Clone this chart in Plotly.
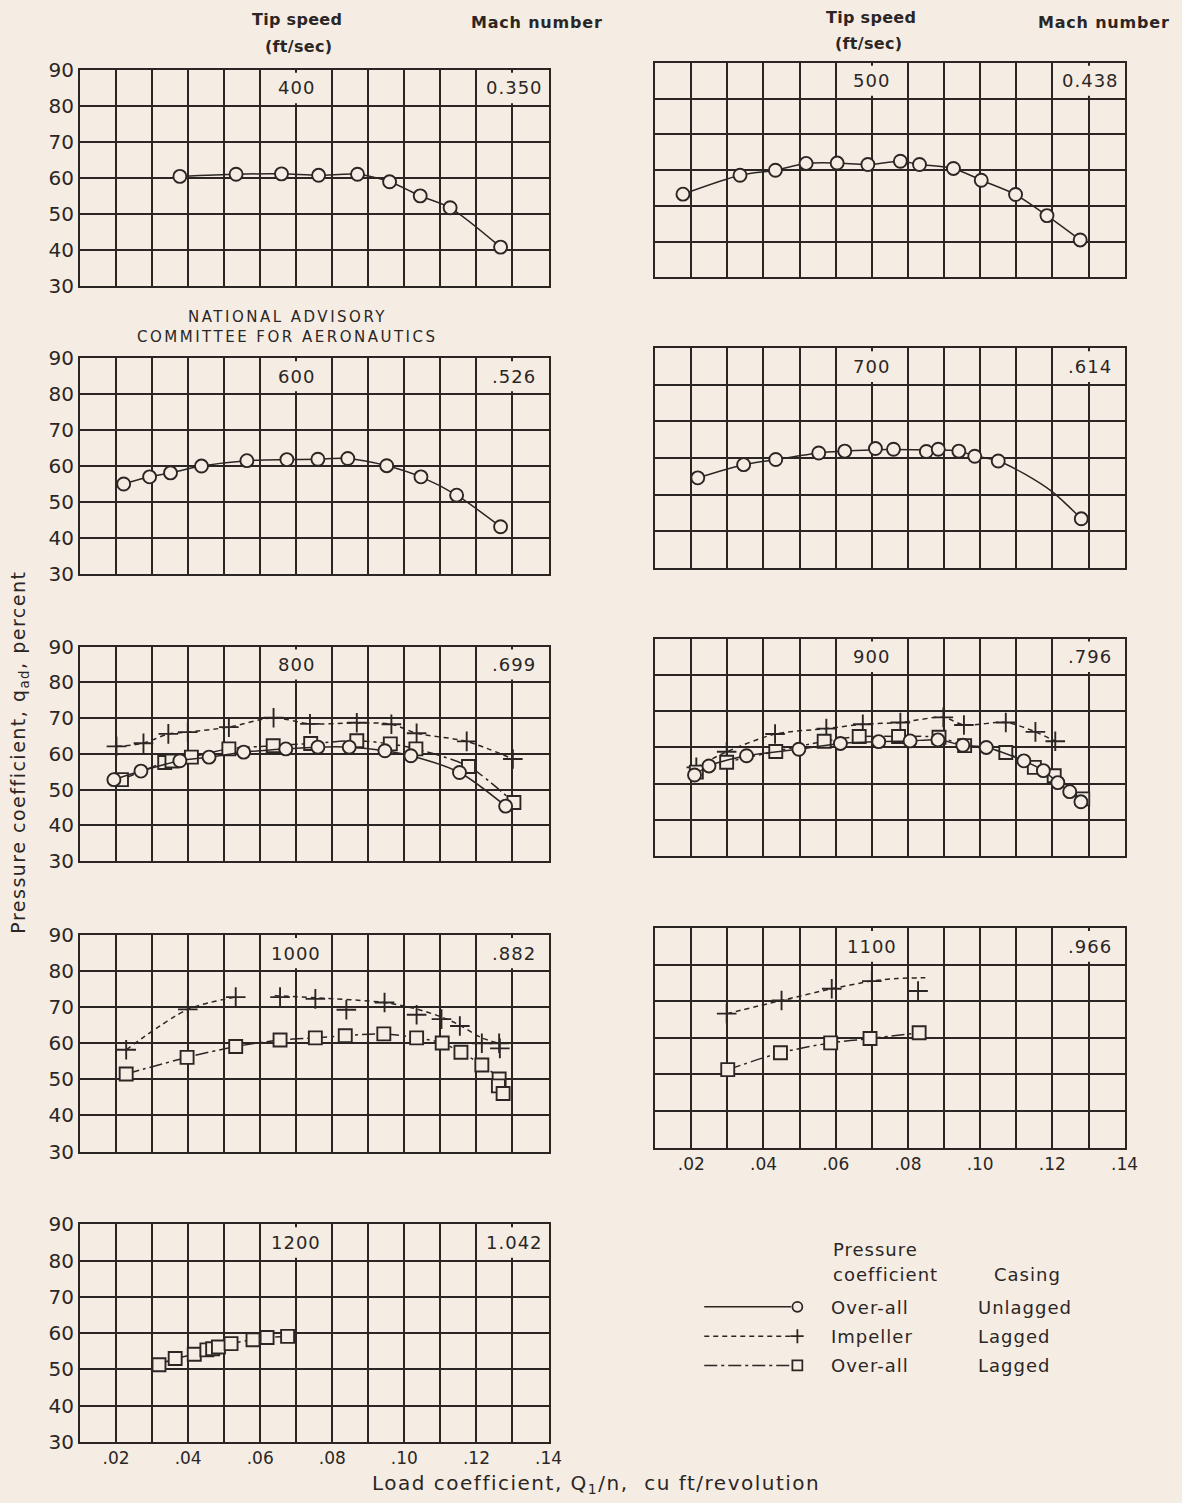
import plotly.graph_objects as go

W, H = 1182, 1503
BG = "#f5ede4"
INK = "#2b2624"
FONT = "DejaVu Sans"

# ---------------- data ----------------
TIP_SPEEDS = ["400", "500", "600", "700", "800", "900", "1000", "1100", "1200"]
MACH_NUMBERS = ["0.350", "0.438", ".526", ".614", ".699", ".796", ".882", ".966", "1.042"]

Y_TICKS = [30, 40, 50, 60, 70, 80, 90]
Y_TICK_LABELS = ["30", "40", "50", "60", "70", "80", "90"]
X_TICKS = [0.02, 0.04, 0.06, 0.08, 0.10, 0.12, 0.14]
X_TICK_LABELS = [".02", ".04", ".06", ".08", ".10", ".12", ".14"]
X_MINOR = [0.01, 0.03, 0.05, 0.07, 0.09, 0.11, 0.13]

# Over-all pressure coefficient, unlagged casing (circles)
Q_400_OU = [0.0377, 0.0533, 0.0659, 0.0762, 0.0870, 0.0959, 0.1044, 0.1127, 0.1267]
P_400_OU = [60.5, 61.1, 61.2, 60.8, 61.1, 59.0, 55.1, 51.8, 40.9]

Q_500_OU = [0.0177, 0.0335, 0.0433, 0.0518, 0.0604, 0.0689, 0.0779, 0.0832, 0.0926, 0.1003, 0.1098, 0.1185, 0.1277]
P_500_OU = [53.3, 58.6, 60.0, 61.9, 62.0, 61.6, 62.5, 61.6, 60.5, 57.2, 53.2, 47.3, 40.5]

Q_600_OU = [0.0221, 0.0293, 0.0351, 0.0437, 0.0563, 0.0674, 0.0760, 0.0843, 0.0951, 0.1046, 0.1145, 0.1267]
P_600_OU = [55.0, 57.0, 58.1, 60.0, 61.5, 61.8, 61.9, 62.1, 60.1, 57.0, 51.9, 43.1]

Q_700_OU = [0.0218, 0.0345, 0.0434, 0.0553, 0.0625, 0.0710, 0.0760, 0.0851, 0.0884, 0.0941, 0.0985, 0.1050, 0.1280]
P_700_OU = [54.6, 58.2, 59.6, 61.4, 61.9, 62.6, 62.4, 61.8, 62.4, 61.9, 60.5, 59.2, 43.4]
# faired curve
Q_700_OU_CURVE = [0.0218, 0.0345, 0.0434, 0.0553, 0.0625, 0.0710, 0.0851, 0.0941, 0.0985, 0.1050, 0.1124, 0.1201, 0.1247, 0.1280]
P_700_OU_CURVE = [54.6, 58.2, 59.6, 61.4, 61.9, 62.3, 62.2, 61.9, 60.6, 59.2, 55.6, 50.7, 46.6, 43.4]

Q_800_OU = [0.0194, 0.0269, 0.0377, 0.0458, 0.0554, 0.0671, 0.0760, 0.0847, 0.0946, 0.1018, 0.1153, 0.1281]
P_800_OU = [52.8, 55.2, 58.1, 59.1, 60.5, 61.4, 61.9, 61.9, 60.9, 59.5, 54.8, 45.4]

Q_900_OU = [0.0209, 0.0249, 0.0353, 0.0498, 0.0613, 0.0719, 0.0806, 0.0883, 0.0952, 0.1017, 0.1121, 0.1175, 0.1215, 0.1248, 0.1279]
P_900_OU = [52.4, 54.9, 57.7, 59.5, 61.1, 61.6, 61.8, 62.1, 60.6, 60.0, 56.3, 53.6, 50.3, 47.8, 45.0]

# Impeller pressure coefficient, lagged casing (plus signs)
Q_800_IL = [0.0201, 0.0276, 0.0345, 0.0399, 0.0513, 0.0637, 0.0738, 0.0868, 0.0964, 0.1034, 0.1173, 0.1301]
P_800_IL = [62.1, 63.0, 65.6, 66.1, 67.5, 70.1, 68.4, 68.7, 68.3, 65.8, 63.5, 58.6]

Q_900_IL = [0.0214, 0.0298, 0.0432, 0.0574, 0.0675, 0.0779, 0.0898, 0.0955, 0.1071, 0.1153, 0.1208]
P_900_IL = [54.5, 58.8, 63.7, 65.2, 66.4, 66.9, 68.3, 66.2, 66.9, 64.3, 61.7]

Q_1000_IL = [0.0228, 0.0399, 0.0532, 0.0655, 0.0753, 0.0839, 0.0945, 0.1034, 0.1103, 0.1154, 0.1215, 0.1263, 0.1265]
P_1000_IL = [58.2, 69.4, 72.8, 72.8, 72.3, 69.3, 71.3, 67.9, 66.7, 64.8, 60.0, 60.0, 58.6]
# faired curve drawn through the impeller points
Q_1000_IL_CURVE = [0.0228, 0.0399, 0.0532, None, 0.0640, 0.0753, 0.0945, 0.1034, 0.1103, 0.1154, 0.1215, 0.1263]
P_1000_IL_CURVE = [58.2, 69.4, 72.8, None, 73.2, 72.6, 71.3, 69.5, 67.3, 65.0, 61.5, 60.0]

Q_1100_IL = [0.0298, 0.0450, 0.0589, 0.0700, 0.0828]
P_1100_IL = [66.6, 70.2, 73.4, 75.5, 72.8]
Q_1100_IL_CURVE = [0.0298, 0.0450, 0.0589, 0.0700, 0.0770, 0.0848]
P_1100_IL_CURVE = [66.6, 70.2, 73.4, 75.5, 76.2, 76.4]

# Over-all pressure coefficient, lagged casing (squares)
Q_800_OL = [0.0215, 0.0335, 0.0355, 0.0409, 0.0513, 0.0636, 0.0740, 0.0868, 0.0961, 0.1032, 0.1178, 0.1304]
P_800_OL = [52.8, 57.6, 58.0, 59.1, 61.4, 62.3, 62.9, 63.7, 62.8, 61.4, 56.5, 46.4]

Q_900_OL = [0.0214, 0.0298, 0.0434, 0.0568, 0.0665, 0.0774, 0.0886, 0.0957, 0.1071, 0.1150, 0.1205, 0.1284]
P_900_OL = [53.2, 55.9, 58.9, 61.7, 63.0, 63.0, 62.8, 60.5, 58.6, 54.5, 52.2, 45.8]

Q_1000_OL = [0.0228, 0.0397, 0.0532, 0.0655, 0.0753, 0.0836, 0.0943, 0.1034, 0.1105, 0.1157, 0.1215, 0.1263, 0.1261, 0.1274]
P_1000_OL = [51.5, 56.1, 59.1, 60.9, 61.5, 62.1, 62.6, 61.5, 60.1, 57.5, 54.0, 50.1, 48.2, 46.1]

Q_1100_OL = [0.0301, 0.0447, 0.0586, 0.0695, 0.0831]
P_1100_OL = [51.3, 55.9, 58.6, 59.8, 61.4]

Q_1200_OL = [0.0319, 0.0364, 0.0417, 0.0452, 0.0468, 0.0484, 0.0519, 0.0580, 0.0619, 0.0676]
P_1200_OL = [51.3, 53.0, 54.2, 55.4, 55.7, 56.2, 57.1, 58.2, 58.8, 59.1]

LEGEND_PRESSURE = ["Over-all", "Impeller", "Over-all"]
LEGEND_CASING = ["Unlagged", "Lagged", "Lagged"]

# ---------------- styles ----------------
STYLE = {
    "OU": dict(dash="solid", symbol="circle", size=13),
    "IL": dict(dash="5px,4px", symbol="cross-thin", size=14),
    "OL": dict(dash="13px,4px,3px,4px", symbol="square", size=13),
}

PANEL_SERIES = {
    0: [("OU", Q_400_OU, P_400_OU, None, None)],
    1: [("OU", Q_500_OU, P_500_OU, None, None)],
    2: [("OU", Q_600_OU, P_600_OU, None, None)],
    3: [("OU", Q_700_OU, P_700_OU, Q_700_OU_CURVE, P_700_OU_CURVE)],
    4: [("IL", Q_800_IL, P_800_IL, None, None),
        ("OL", Q_800_OL, P_800_OL, None, None),
        ("OU", Q_800_OU, P_800_OU, None, None)],
    5: [("IL", Q_900_IL, P_900_IL, None, None),
        ("OL", Q_900_OL, P_900_OL, None, None),
        ("OU", Q_900_OU, P_900_OU, None, None)],
    6: [("IL", Q_1000_IL, P_1000_IL, Q_1000_IL_CURVE, P_1000_IL_CURVE),
        ("OL", Q_1000_OL, P_1000_OL, None, None)],
    7: [("IL", Q_1100_IL, P_1100_IL, Q_1100_IL_CURVE, P_1100_IL_CURVE),
        ("OL", Q_1100_OL, P_1100_OL, None, None)],
    8: [("OL", Q_1200_OL, P_1200_OL, None, None)],
}

# target pixel positions -> paper fractions (with a small calibration of the page rendering)
AX, BX, AY, BY = 0.9914, -1.31, 0.9862, 9.94


def fx(p):
    return ((p - BX) / AX) / W


def fy(p):
    return 1 - ((p - BY) / AY) / H


# panel frames in pixels: (left, right, top, bottom)
LEFT_X = (79, 549)
RIGHT_X = (656, 1127)
PANEL_BOX = {
    0: LEFT_X + (68, 285),
    1: RIGHT_X + (61, 276),
    2: LEFT_X + (357, 573),
    3: RIGHT_X + (347, 567),
    4: LEFT_X + (646, 861),
    5: RIGHT_X + (638, 856),
    6: LEFT_X + (935, 1152),
    7: RIGHT_X + (928, 1148),
    8: LEFT_X + (1225, 1443),
}
SHOW_X_LABELS = {7, 8}
SHOW_Y_LABELS = {0, 2, 4, 6, 8}

fig = go.Figure()
annotations = []
shapes = []
layout = {}


def spaced(text, ls):
    return '<span style="letter-spacing:%spx">%s</span>' % (ls, text)


for i in range(9):
    n = "" if i == 0 else str(i + 1)
    xa, ya = "x" + n, "y" + n
    l, r, t, b = PANEL_BOX[i]
    layout["xaxis" + n] = dict(
        domain=[fx(l), fx(r)], anchor=ya, range=[0.01, 0.14],
        tickvals=X_TICKS, ticktext=X_TICK_LABELS, showticklabels=i in SHOW_X_LABELS,
        ticks="", showgrid=True, gridcolor=INK, gridwidth=1.5, zeroline=False,
        showline=True, mirror=True, linecolor=INK, linewidth=2,
        minor=dict(tickvals=X_MINOR, showgrid=True, gridcolor=INK, gridwidth=1.5, ticks=""),
        tickfont=dict(family=FONT, size=17, color=INK), fixedrange=True,
    )
    layout["yaxis" + n] = dict(
        domain=[fy(b), fy(t)], anchor=xa, range=[30, 90],
        tickvals=Y_TICKS, ticktext=Y_TICK_LABELS, showticklabels=i in SHOW_Y_LABELS,
        ticks="", showgrid=True, gridcolor=INK, gridwidth=1.5, zeroline=False,
        showline=True, mirror=True, linecolor=INK, linewidth=2,
        tickfont=dict(family=FONT, size=20, color=INK), fixedrange=True,
    )
    # label boxes in the top row
    for x0, x1 in ((0.0606, 0.0794), (0.1206, 0.1394)):
        shapes.append(dict(type="rect", xref=xa, yref=ya, x0=x0, x1=x1, y0=80.8, y1=89.2,
                           fillcolor=BG, line=dict(width=0), layer="above"))
    annotations.append(dict(xref=xa, yref=ya, x=0.07, y=85, text=spaced(TIP_SPEEDS[i], 1), showarrow=False,
                            font=dict(family=FONT, size=18, color=INK)))
    annotations.append(dict(xref=xa, yref=ya, x=0.1305, y=85, text=spaced(MACH_NUMBERS[i], 1), showarrow=False,
                            font=dict(family=FONT, size=18, color=INK)))

    for kind, qs, ps, cq, cp in PANEL_SERIES[i]:
        st = STYLE[kind]
        lx, ly = (cq, cp) if cq is not None else (qs, ps)
        fig.add_trace(go.Scatter(x=lx, y=ly, xaxis=xa, yaxis=ya, mode="lines",
                                 line=dict(color=INK, width=1.5, dash=st["dash"], shape="spline", smoothing=0.8),
                                 hoverinfo="skip", showlegend=False))
        fig.add_trace(go.Scatter(x=qs, y=ps, xaxis=xa, yaxis=ya, mode="markers",
                                 marker=dict(symbol=st["symbol"], size=st["size"], color=BG,
                                             line=dict(color=INK, width=1.9)),
                                 showlegend=False))

# ---- legend on its own hidden axes ----
LEG_ROWS = [0, 1, 2]
LEG_KINDS = ["OU", "IL", "OL"]
layout["xaxis10"] = dict(domain=[fx(700), fx(805)], anchor="y10", range=[0, 1], visible=False, fixedrange=True)
layout["yaxis10"] = dict(domain=[fy(1381), fy(1293)], anchor="x10", range=[2.5, -0.5], visible=False, fixedrange=True)
for row, kind in zip(LEG_ROWS, LEG_KINDS):
    st = STYLE[kind]
    fig.add_trace(go.Scatter(x=[0.05, 0.88], y=[row, row], xaxis="x10", yaxis="y10", mode="lines",
                             line=dict(color=INK, width=1.5, dash=st["dash"]), hoverinfo="skip", showlegend=False))
    fig.add_trace(go.Scatter(x=[0.94], y=[row], xaxis="x10", yaxis="y10", mode="markers",
                             marker=dict(symbol=st["symbol"], size=10, color=BG, line=dict(color=INK, width=1.8)),
                             hoverinfo="skip", showlegend=False))


def ptxt(x, y, text, size=18, xanchor="center", align="center", angle=0, weight="normal"):
    annotations.append(dict(xref="paper", yref="paper", x=fx(x), y=fy(y), text=text,
                            showarrow=False, xanchor=xanchor, yanchor="middle", align=align,
                            textangle=angle, font=dict(family=FONT, size=size, color=INK, weight=weight)))


ptxt(832, 1250, spaced("Pressure", 1), size=18, xanchor="left", align="left")
ptxt(832, 1275, spaced("coefficient", 1), size=18, xanchor="left", align="left")
ptxt(1030, 1275, spaced("Casing", 1), size=18)
for row, (pr, ca) in enumerate(zip(LEGEND_PRESSURE, LEGEND_CASING)):
    y = 1308 + row * 29
    ptxt(830, y, spaced(pr, 1), size=18, xanchor="left", align="left")
    ptxt(978, y, spaced(ca, 1), size=18, xanchor="left", align="left")

# headers
ptxt(297, 17, spaced("Tip speed", 0.3), size=16, weight="bold")
ptxt(298, 45, spaced("(ft/sec)", 0.3), size=16, weight="bold")
ptxt(537, 20, spaced("Mach number", 0.8), size=16, weight="bold")
ptxt(873, 15, spaced("Tip speed", 0.3), size=16, weight="bold")
ptxt(870, 42, spaced("(ft/sec)", 0.3), size=16, weight="bold")
ptxt(1106, 20, spaced("Mach number", 0.8), size=16, weight="bold")

ptxt(287, 316, spaced("NATIONAL ADVISORY", 2.5), size=15)
ptxt(287, 336, spaced("COMMITTEE FOR AERONAUTICS", 2.5), size=15)

ptxt(18, 752, spaced("Pressure coefficient, q<sub>ad</sub>, percent", 1.5), size=19, angle=-90)
ptxt(597, 1485, spaced("Load coefficient, Q<sub>1</sub>/n,  cu ft/revolution", 1.5), size=20)

fig.update_layout(
    width=W, height=H, margin=dict(l=0, r=0, t=0, b=0),
    paper_bgcolor=BG, plot_bgcolor=BG, showlegend=False,
    annotations=annotations, shapes=shapes, **layout,
)
fig.write_html(
    "out.html",
    config={"responsive": False, "displayModeBar": False},
    post_script="document.body.style.margin='0';document.body.style.background='" + BG + "';",
)
